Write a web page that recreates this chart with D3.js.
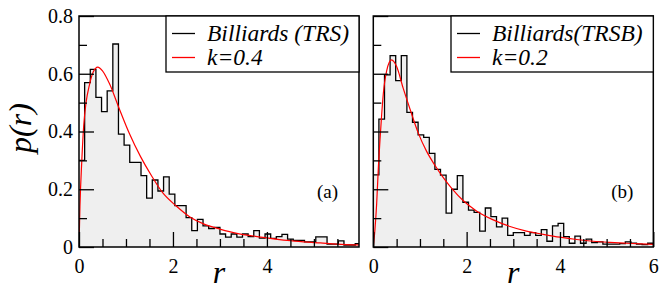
<!DOCTYPE html>
<html>
<head>
<meta charset="utf-8">
<script src="https://cdn.jsdelivr.net/npm/d3@7"></script>
<style>
  body { margin: 0; background: #fff; }
  svg text { font-family: "Liberation Serif", "DejaVu Serif", serif; }
</style>
</head>
<body>
<div id="chart"></div>
<script>
// histogram bins of width 0.12 starting at r = 0
var binWidth = 0.12;

// (a) Billiards (TRS)
var trsHist = [0.30, 0.569, 0.615, 0.518, 0.469, 0.541, 0.703, 0.391, 0.353, 0.293,
  0.293, 0.247, 0.169, 0.232, 0.194, 0.243, 0.183, 0.143, 0.143, 0.102,
  0.057, 0.096, 0.073, 0.064, 0.068, 0.045, 0.034, 0.045, 0.034, 0.045,
  0.036, 0.057, 0.031, 0.045, 0.030, 0.036, 0.044, 0.027, 0.023, 0.023,
  0.018, 0.018, 0.035, 0.035, 0.010, 0.010, 0.021, 0.007, 0.007, 0.012];

// (b) Billiards (TRSB)
var trsbHist = [0.25, 0.443, 0.596, 0.663, 0.576, 0.663, 0.466, 0.432, 0.388, 0.380,
  0.324, 0.269, 0.249, 0.117, 0.200, 0.247, 0.155, 0.128, 0.120, 0.055,
  0.135, 0.105, 0.070, 0.100, 0.040, 0.050, 0.050, 0.040, 0.050, 0.040,
  0.060, 0.020, 0.073, 0.082, 0.036, 0.013, 0.038, 0.013, 0.027, 0.015,
  0.018, 0.010, 0.010, 0.010, 0.012, 0.018, 0.013, 0.010, 0.008, 0.013];

// fitted curves
var fitR_a = [0, 0.02, 0.06, 0.1, 0.15, 0.22, 0.3, 0.4, 0.5, 0.65, 0.84, 1.07, 1.31, 1.55,
  1.78, 2.07, 2.37, 2.65, 3.0, 3.36, 3.72, 4.07, 4.43, 4.78, 5.14, 5.49, 5.97];
var fitP_a = [0, 0.14, 0.30, 0.42, 0.50, 0.56, 0.605, 0.623, 0.61, 0.565, 0.486, 0.394, 0.313, 0.245,
  0.188, 0.142, 0.103, 0.080, 0.062, 0.047, 0.038, 0.030, 0.023, 0.018, 0.014, 0.010, 0.007];

var fitR_b = [0, 0.035, 0.072, 0.11, 0.143, 0.18, 0.214, 0.286, 0.39, 0.5, 0.64, 0.786, 0.96, 1.14,
  1.32, 1.5, 1.68, 1.93, 2.21, 2.57, 2.93, 3.28, 3.64, 4.0, 4.36, 4.71, 5.07, 5.43, 6.0];
var fitP_b = [0, 0.06, 0.15, 0.28, 0.37, 0.46, 0.53, 0.61, 0.648, 0.625, 0.55, 0.478, 0.396, 0.332,
  0.283, 0.24, 0.203, 0.16, 0.125, 0.094, 0.071, 0.055, 0.044, 0.034, 0.026, 0.02, 0.016, 0.013, 0.009];

var xTickLabels = [0, 2, 4, 6];
var yTickLabels = [0, 0.2, 0.4, 0.6, 0.8];

var W = 660, H = 291;
var plotTop = 16, plotBottom = 247;

var svg = d3.select("#chart").append("svg")
  .attr("width", W)
  .attr("height", H)
  .style("display", "block");

var y = d3.scaleLinear().domain([0, 0.8]).range([plotBottom, plotTop]);

var panels = [
  { id: "a", left: 79, right: 359, xMax: 5.96, hist: trsHist, fitR: fitR_a, fitP: fitP_a,
    legend: ["Billiards (TRS)", "k=0.4"], legendLeft: 166, yLabels: true },
  { id: "b", left: 373.3, right: 653.3, xMax: 6, hist: trsbHist, fitR: fitR_b, fitP: fitP_b,
    legend: ["Billiards(TRSB)", "k=0.2"], legendLeft: 451, yLabels: false }
];

panels.forEach(function (p) {
  var x = d3.scaleLinear().domain([0, p.xMax]).range([p.left, p.right]);
  var g = svg.append("g");

  g.append("clipPath").attr("id", "clip-" + p.id)
    .append("rect")
    .attr("x", p.left).attr("y", plotTop)
    .attr("width", p.right - p.left).attr("height", plotBottom - plotTop);

  // step histogram
  var steps = p.hist.map(function (v, i) { return { r: i * binWidth, v: v }; });
  steps.push({ r: p.hist.length * binWidth, v: p.hist[p.hist.length - 1] });

  var plot = g.append("g").attr("clip-path", "url(#clip-" + p.id + ")");

  plot.append("path")
    .datum(steps)
    .attr("fill", "#efefef")
    .attr("d", d3.area().curve(d3.curveStepAfter)
      .x(function (d) { return x(d.r); })
      .y0(y(0))
      .y1(function (d) { return y(d.v); }));

  plot.append("path")
    .datum(steps)
    .attr("fill", "none")
    .attr("stroke", "#000")
    .attr("stroke-width", 1.3)
    .attr("d", d3.line().curve(d3.curveStepAfter)
      .x(function (d) { return x(d.r); })
      .y(function (d) { return y(d.v); }));

  // fit curve
  plot.append("path")
    .datum(d3.zip(p.fitR, p.fitP))
    .attr("fill", "none")
    .attr("stroke", "#ff0000")
    .attr("stroke-width", 1.2)
    .attr("d", d3.line().curve(d3.curveMonotoneX)
      .x(function (d) { return x(d[0]); })
      .y(function (d) { return y(d[1]); }));

  // axes, ticks pointing inward
  var xMinor = d3.range(0, p.xMax + 1e-9, 0.5).filter(function (v) { return v % 2 !== 0; });
  g.append("g")
    .attr("transform", "translate(0," + plotBottom + ")")
    .call(d3.axisBottom(x).tickValues(xMinor).tickFormat("").tickSize(-8))
    .call(function (s) { s.select(".domain").remove(); });
  g.append("g")
    .attr("transform", "translate(0," + plotBottom + ")")
    .call(d3.axisBottom(x).tickValues(xTickLabels.filter(function (v) { return v <= p.xMax; }))
      .tickFormat(d3.format("d")).tickSize(-15).tickPadding(12))
    .call(function (s) { s.select(".domain").remove(); });

  var yMinor = [0.1, 0.3, 0.5, 0.7];
  g.append("g")
    .attr("transform", "translate(" + p.left + ",0)")
    .call(d3.axisLeft(y).tickValues(yMinor).tickFormat("").tickSize(-8))
    .call(function (s) { s.select(".domain").remove(); });
  g.append("g")
    .attr("transform", "translate(" + p.left + ",0)")
    .call(d3.axisLeft(y).tickValues(yTickLabels)
      .tickFormat(p.yLabels ? function (d) { return d === 0 ? "0" : d3.format(".1f")(d); } : "")
      .tickSize(-15).tickPadding(6))
    .call(function (s) { s.select(".domain").remove(); });

  g.selectAll(".tick line").attr("stroke", "#000").attr("stroke-width", 1.3);
  g.selectAll(".tick text").attr("fill", "#000").attr("font-size", 20);

  // frame
  g.append("rect")
    .attr("x", p.left).attr("y", plotTop)
    .attr("width", p.right - p.left).attr("height", plotBottom - plotTop)
    .attr("fill", "none").attr("stroke", "#000").attr("stroke-width", 1.5);

  // legend
  var lg = g.append("g");
  lg.append("rect")
    .attr("x", p.legendLeft).attr("y", plotTop)
    .attr("width", p.right - p.legendLeft).attr("height", 56)
    .attr("fill", "#fff").attr("stroke", "#000").attr("stroke-width", 1.3);
  [["#000", 33.5], ["#ff0000", 57.5]].forEach(function (e, i) {
    lg.append("line")
      .attr("x1", p.legendLeft + 6).attr("x2", p.legendLeft + 29)
      .attr("y1", e[1]).attr("y2", e[1])
      .attr("stroke", e[0]).attr("stroke-width", 1.3);
    lg.append("text")
      .attr("x", p.legendLeft + 41).attr("y", e[1] + 7)
      .attr("font-size", 23.5).attr("font-style", "italic")
      .text(p.legend[i]);
  });

  // panel tag
  g.append("text")
    .attr("x", p.right - 42).attr("y", 198)
    .attr("font-size", 19)
    .text("(" + p.id + ")");

  // x axis title
  g.append("text")
    .attr("x", (p.left + p.right) / 2).attr("y", 283)
    .attr("text-anchor", "middle")
    .attr("font-size", 32).attr("font-style", "italic")
    .text("r");
});

svg.append("text")
  .attr("transform", "translate(31,128) rotate(-90)")
  .attr("text-anchor", "middle")
  .attr("font-size", 32).attr("font-style", "italic")
  .text("p(r)");
</script>
</body>
</html>
